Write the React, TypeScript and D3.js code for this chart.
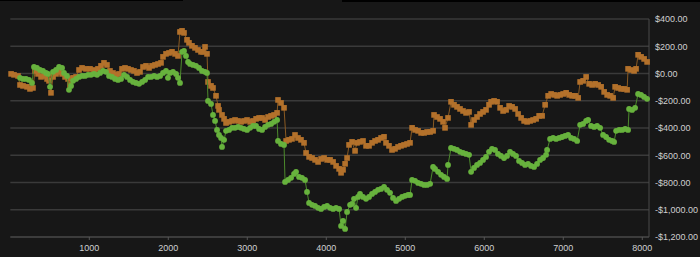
import React from "react";
import * as d3 from "d3";

const orangeX = [10,47,98,123,161,212,249,287,313,351,389,427,465,490,515,541,579,617,655,693,731,756,794,832,870,908,958,1009,1060,1110,1148,1186,1224,1262,1300,1338,1376,1414,1452,1490,1528,1566,1604,1642,1680,1718,1756,1794,1832,1870,1908,1933,1971,2009,2047,2085,2123,2148,2174,2199,2237,2262,2300,2338,2376,2414,2440,2465,2490,2503,2541,2566,2604,2630,2642,2680,2706,2731,2769,2807,2845,2883,2921,2959,2997,3035,3073,3111,3149,3187,3225,3263,3301,3339,3377,3389,3427,3465,3491,3528,3566,3604,3642,3680,3718,3744,3782,3820,3858,3896,3934,3972,4010,4048,4086,4124,4162,4187,4212,4238,4263,4288,4326,4364,4389,4427,4465,4503,4541,4579,4617,4655,4693,4731,4756,4794,4832,4870,4908,4946,4984,5022,5060,5086,5124,5162,5200,5238,5276,5314,5352,5364,5402,5440,5478,5503,5541,5579,5617,5655,5693,5731,5769,5807,5833,5870,5908,5946,5984,6022,6060,6086,6124,6162,6200,6238,6276,6314,6352,6390,6428,6466,6504,6542,6580,6618,6656,6694,6732,6770,6808,6846,6884,6922,6960,6998,7036,7074,7112,7150,7188,7213,7251,7289,7327,7365,7403,7441,7479,7517,7555,7593,7631,7656,7694,7732,7770,7808,7820,7858,7896,7921,7947,7985,8023,8061];
const orangeY = [-3,-10,-18,-84,-91,-98,-113,-106,19,-3,-25,-18,-40,-54,-142,-25,-3,12,-3,-25,-40,-84,-32,-25,26,41,34,34,26,34,56,78,63,19,4,-10,-3,34,41,34,26,19,4,12,48,56,41,56,63,70,78,122,144,151,159,144,129,305,313,298,247,225,203,188,173,159,159,195,144,-62,-91,-106,-164,-238,-267,-304,-333,-363,-355,-348,-341,-348,-355,-348,-341,-355,-348,-333,-326,-326,-341,-319,-311,-304,-289,-194,-216,-252,-495,-487,-480,-451,-473,-487,-509,-583,-612,-620,-634,-649,-627,-620,-634,-634,-649,-678,-700,-729,-707,-663,-620,-524,-502,-568,-509,-502,-495,-531,-531,-509,-495,-487,-473,-465,-509,-531,-561,-553,-539,-531,-524,-517,-509,-399,-414,-421,-436,-436,-429,-429,-421,-304,-319,-333,-355,-399,-326,-208,-230,-245,-260,-275,-289,-282,-377,-341,-319,-297,-282,-267,-230,-208,-201,-208,-252,-275,-267,-238,-245,-260,-297,-326,-348,-355,-348,-341,-333,-311,-311,-230,-164,-150,-157,-164,-157,-150,-142,-157,-164,-164,-179,-62,-54,-25,-76,-84,-76,-84,-98,-135,-157,-164,-179,-98,-106,-113,-113,-120,34,26,19,34,137,122,107,85];

const greenX = [123,161,199,237,275,300,338,376,414,452,477,503,541,579,617,655,680,718,743,769,794,832,870,908,946,984,1022,1060,1098,1136,1174,1212,1250,1288,1326,1364,1402,1440,1478,1516,1554,1592,1630,1668,1706,1744,1782,1820,1858,1896,1933,1971,1996,2022,2060,2098,2123,2148,2174,2199,2224,2250,2275,2313,2351,2389,2427,2465,2490,2503,2541,2566,2592,2617,2642,2668,2680,2706,2731,2769,2807,2845,2883,2921,2959,2997,3035,3073,3111,3149,3187,3225,3263,3301,3339,3377,3389,3427,3465,3478,3516,3554,3592,3617,3655,3693,3731,3756,3782,3820,3858,3896,3934,3972,4010,4048,4086,4124,4162,4187,4212,4238,4263,4301,4326,4351,4377,4402,4427,4465,4503,4541,4579,4617,4655,4693,4731,4769,4807,4845,4883,4921,4959,4997,5035,5060,5086,5124,5162,5200,5238,5276,5314,5352,5377,5415,5453,5491,5529,5541,5579,5617,5655,5693,5731,5769,5807,5833,5870,5908,5946,5984,6022,6060,6098,6136,6174,6212,6250,6288,6326,6364,6402,6440,6478,6516,6554,6592,6630,6668,6706,6744,6782,6795,6833,6871,6909,6947,6985,7023,7061,7099,7137,7175,7213,7251,7289,7314,7352,7390,7428,7466,7504,7542,7580,7618,7643,7669,7707,7745,7783,7820,7833,7871,7909,7947,7985,8023,8061];
const greenY = [-32,-40,-40,-47,-69,48,41,26,19,4,-3,-98,12,26,48,41,4,-18,-120,-91,-54,-40,-25,-18,-18,-10,-10,-3,-10,4,19,12,-18,-25,-40,-47,-40,-10,-25,-47,-62,-69,-76,-62,-47,-25,-25,-18,-25,-18,4,19,-32,4,12,-3,-32,-69,159,166,129,85,70,63,56,41,19,12,4,-201,-223,-304,-348,-414,-451,-473,-539,-487,-421,-414,-399,-399,-392,-399,-407,-414,-399,-385,-385,-407,-414,-392,-377,-370,-355,-341,-495,-517,-524,-796,-781,-766,-737,-722,-759,-766,-781,-869,-950,-964,-972,-986,-994,-979,-972,-986,-994,-986,-994,-1119,-1082,-1141,-1016,-964,-957,-920,-986,-906,-884,-906,-920,-906,-884,-869,-854,-847,-832,-854,-876,-913,-935,-920,-906,-898,-891,-891,-781,-788,-803,-810,-818,-818,-810,-686,-700,-722,-744,-759,-774,-671,-546,-553,-561,-575,-583,-590,-597,-722,-693,-671,-656,-634,-612,-575,-553,-561,-590,-605,-620,-605,-575,-590,-605,-642,-656,-671,-664,-678,-686,-664,-634,-620,-597,-561,-480,-473,-480,-473,-466,-458,-451,-473,-480,-495,-377,-370,-348,-341,-385,-392,-385,-399,-451,-466,-487,-495,-502,-421,-414,-414,-407,-414,-260,-267,-252,-150,-157,-172,-186];

const xTicks = [1000, 2000, 3000, 4000, 5000, 6000, 7000, 8000];
const yTicks = [400, 200, 0, -200, -400, -600, -800, -1000, -1200];

const W = 700, H = 257;
const left = 10.3, right = 649, top = 19, bottom = 237;

const fmt = (v: number) => {
  const s = d3.format(",.2f")(Math.abs(v));
  return (v < 0 ? "-$" : "$") + s;
};

export default function App() {
  const x = d3.scaleLinear().domain([0, 8085]).range([left, right]);
  const y = d3.scaleLinear().domain([-1200, 400]).range([bottom, top]);
  const orange = orangeX.map((v, i) => [v, orangeY[i]] as [number, number]);
  const green = greenX.map((v, i) => [v, greenY[i]] as [number, number]);
  const line = d3.line<[number, number]>().x(d => x(d[0])).y(d => y(d[1]));
  const font = "'Liberation Sans', Arial, Helvetica, sans-serif";
  return (
    <svg width={W} height={H} style={{ position: "fixed", left: 0, top: 0, display: "block" }}>
      <rect x={0} y={0} width={W} height={H} fill="#171717" />
      <rect x={0} y={0} width={183} height={1} fill="#000" />
      <rect x={342} y={0} width={358} height={2} fill="#000" />
      {yTicks.map(t => (
        <line key={t} x1={left} x2={right} y1={y(t)} y2={y(t)} stroke={t === -1200 ? "#4a4a4a" : "#3a3a3a"} strokeWidth={1.3} />
      ))}
      <line x1={right} x2={right} y1={top} y2={bottom} stroke="#4a4a4a" strokeWidth={1} />
      {xTicks.map(t => (
        <g key={t}>
          <line x1={x(t)} x2={x(t)} y1={bottom} y2={bottom + 3} stroke="#555" />
          <text x={x(t)} y={251} fill="#d0d0d0" fontSize={9} fontFamily={font} textAnchor="middle">{t}</text>
        </g>
      ))}
      {yTicks.map(t => (
        <text key={t} x={655} y={y(t) + 3.3} fill="#d0d0d0" fontSize={9} fontFamily={font}>{fmt(t)}</text>
      ))}
      <path d={line(orange) || ""} fill="none" stroke="#8a5a22" strokeWidth={1} />
      {orange.map((d, i) => (
        <rect key={i} x={x(d[0]) - 2.8} y={y(d[1]) - 2.8} width={5.6} height={5.6} fill="#b3712b" />
      ))}
      <path d={line(green) || ""} fill="none" stroke="#4c8a2c" strokeWidth={1} />
      {green.map((d, i) => (
        <circle key={i} cx={x(d[0])} cy={y(d[1])} r={2.9} fill="#67b23d" />
      ))}
    </svg>
  );
}
